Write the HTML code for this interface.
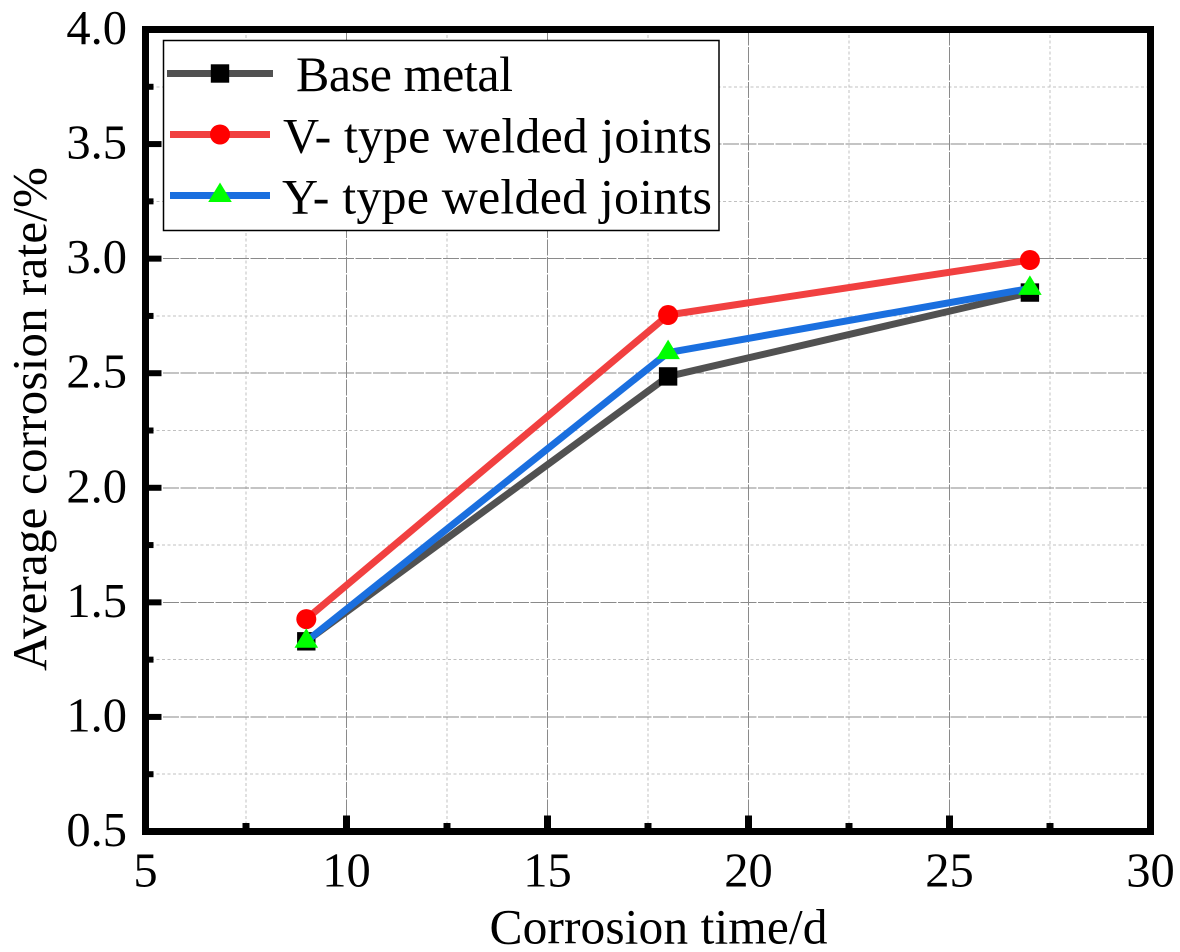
<!DOCTYPE html>
<html lang="en">
<head>
<meta charset="utf-8">
<title>Average corrosion rate vs corrosion time</title>
<style>
  html, body { margin: 0; padding: 0; background: #fff; }
  svg { display: block; }
  text { font-family: "Liberation Serif", serif; fill: #000; }
</style>
</head>
<body>
<svg id="chart" xmlns="http://www.w3.org/2000/svg" width="1180" height="952" viewBox="0 0 1180 952"></svg>
<script>
const categories = [9, 18, 27];
const baseMetal = [1.33, 2.486, 2.852];
const vType = [1.427, 2.754, 2.994];
const yType = [1.33, 2.59, 2.87];
const xMajorTicks = [5, 10, 15, 20, 25, 30];
const xMinorTicks = [7.5, 12.5, 17.5, 22.5, 27.5];
const yMajorTicks = ['0.5', '1.0', '1.5', '2.0', '2.5', '3.0', '3.5', '4.0'];
const yMinorTicks = [0.75, 1.25, 1.75, 2.25, 2.75, 3.25, 3.75];
const seriesNames = ['Base metal', 'V- type welded joints', 'Y- type welded joints'];

const svg = document.getElementById('chart');
const NS = 'http://www.w3.org/2000/svg';
const L = 145.5, R = 1150.5, T = 29.5, B = 831.5;
const xMin = 5, xMax = 30, yMin = 0.5, yMax = 4;
function sx(v) { return L + (v - xMin) / (xMax - xMin) * (R - L); }
function sy(v) { return B - (v - yMin) / (yMax - yMin) * (B - T); }

function make(tag, attrs, parent) {
  const el = document.createElementNS(NS, tag);
  for (const k in attrs) el.setAttribute(k, attrs[k]);
  (parent || svg).appendChild(el);
  return el;
}

function drawMarker(kind, x, y, parent) {
  let m;
  if (kind === 0) {
    m = make('rect', { x: x - 9.2, y: y - 9.2, width: 18.4, height: 18.4, fill: '#000' }, parent);
  } else if (kind === 1) {
    m = make('circle', { cx: x, cy: y, r: 10, fill: '#ff0000' }, parent);
  } else {
    m = make('polygon', { points: (x - 11.8) + ',' + (y + 6.5) + ' ' + x + ',' + (y - 13) + ' ' + (x + 11.8) + ',' + (y + 6.5), fill: '#00ff00' }, parent);
  }
  
  
  return m;
}

/* grid */
const grid = make('g', { 'shape-rendering': 'crispEdges' });


xMinorTicks.forEach(function (v) {
  const l = make('line', { x1: sx(v), x2: sx(v), y1: T, y2: B, stroke: '#c0c0c0', 'stroke-width': 1, 'stroke-dasharray': '3 2.5' }, grid);
  
  
});
yMinorTicks.forEach(function (v) {
  const l = make('line', { x1: L, x2: R, y1: sy(v), y2: sy(v), stroke: '#c0c0c0', 'stroke-width': 1, 'stroke-dasharray': '3 2.5' }, grid);
  
  
});
xMajorTicks.slice(1, -1).forEach(function (v) {
  const l = make('line', { x1: sx(v), x2: sx(v), y1: T, y2: B, stroke: '#8a8a8a', 'stroke-width': 1, 'stroke-dasharray': '16 1.5' }, grid);
  
  
});
yMajorTicks.slice(1, -1).forEach(function (t) {
  const v = parseFloat(t);
  const l = make('line', { x1: L, x2: R, y1: sy(v), y2: sy(v), stroke: '#8a8a8a', 'stroke-width': 1, 'stroke-dasharray': '16 1.5' }, grid);
  
  
});

/* series */
const lineColors = ['#515151', '#f14040', '#1a6fdf'];
const allSeries = [baseMetal, vType, yType];
allSeries.forEach(function (vals, i) {
  const g = make('g', {});
  
  
  const pts = vals.map(function (v, j) { return sx(categories[j]) + ',' + sy(v); }).join(' ');
  const pl = make('polyline', { points: pts, fill: 'none', stroke: lineColors[i], 'stroke-width': 7, 'stroke-linejoin': 'round' }, g);
  
  
  vals.forEach(function (v, j) { drawMarker(i, sx(categories[j]), sy(v), g); });
});

/* axes frame */
const frame = make('rect', { x: L, y: T, width: R - L, height: B - T, fill: 'none', stroke: '#000', 'stroke-width': 7 });



/* ticks and labels */
xMajorTicks.forEach(function (v) {
  const x = sx(v);
  const t = make('line', { x1: x, x2: x, y1: B, y2: B - 16, stroke: '#000', 'stroke-width': 7 });
  
  
  const lb = make('text', { x: x, y: 886.5, 'font-size': 48.5, 'text-anchor': 'middle' });
  lb.textContent = String(v);
  
  
});
xMinorTicks.forEach(function (v) {
  const t = make('line', { x1: sx(v), x2: sx(v), y1: B, y2: B - 8.5, stroke: '#000', 'stroke-width': 7 });
  
  
});
yMajorTicks.forEach(function (s) {
  const y = sy(parseFloat(s));
  const t = make('line', { x1: L, x2: L + 16, y1: y, y2: y, stroke: '#000', 'stroke-width': 6 });
  
  
  const lb = make('text', { x: 127, y: y + 14.5, 'font-size': 48.5, 'text-anchor': 'end' });
  lb.textContent = s;
  
  
});
yMinorTicks.forEach(function (v) {
  const t = make('line', { x1: L, x2: L + 8, y1: sy(v), y2: sy(v), stroke: '#000', 'stroke-width': 6 });
  
  
});

/* axis titles */
const xTitle = make('text', { x: 489.5, y: 943.5, 'font-size': 49.5, textLength: 338, lengthAdjust: 'spacing' });
xTitle.textContent = 'Corrosion time/d';



const yTitle = make('text', { x: 0, y: 0, 'font-size': 49, transform: 'translate(46 671) rotate(-90)', textLength: 504, lengthAdjust: 'spacing' });
yTitle.textContent = 'Average corrosion rate/%';



/* legend */
const legend = make('g', {});


const legendBox = make('rect', { x: 163.5, y: 40.5, width: 555.5, height: 190, fill: '#fff', stroke: '#000', 'stroke-width': 1.5 }, legend);


const legendRows = [
  { y: 73.5, x1: 167, x2: 273, tx: 296, by: 91, len: 217 },
  { y: 134.5, x1: 170, x2: 270, tx: 283, by: 152.5, len: 429 },
  { y: 195.5, x1: 170, x2: 270, tx: 282, by: 213.5, len: 430 }
];
seriesNames.forEach(function (name, i) {
  const r = legendRows[i];
  const g = make('g', {}, legend);
  
  
  const sw = make('line', { x1: r.x1, x2: r.x2, y1: r.y, y2: r.y, stroke: lineColors[i], 'stroke-width': 7 }, g);
  
  
  drawMarker(i, 220, r.y, g);
  const t = make('text', { x: r.tx, y: r.by, 'font-size': 50, textLength: r.len, lengthAdjust: 'spacing' }, g);
  t.textContent = name;
  
  
});
</script>
</body>
</html>
